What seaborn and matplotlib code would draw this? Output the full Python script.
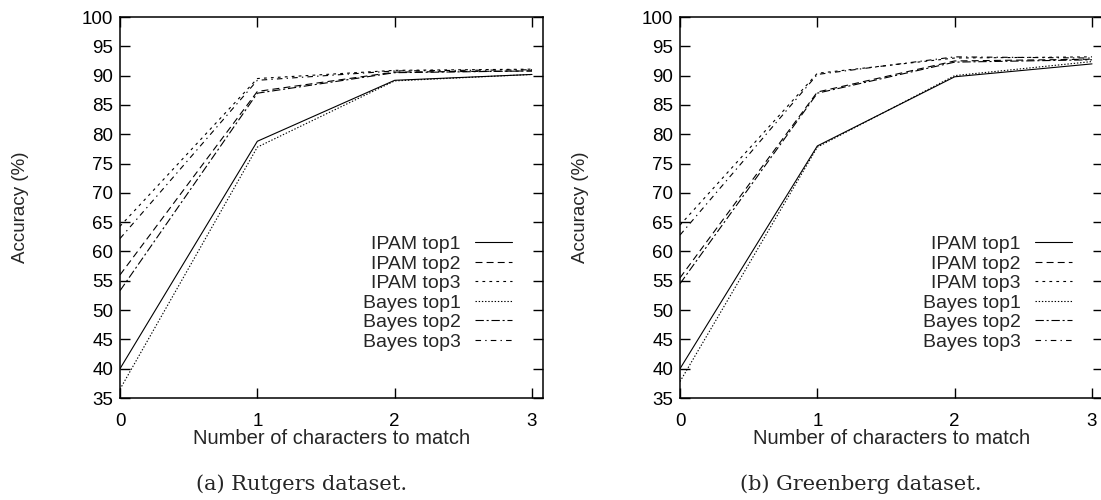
import matplotlib
matplotlib.use("Agg")
import matplotlib.pyplot as plt
import seaborn as sns
import pandas as pd

chars = [0, 1, 2, 3]
series_names = ["IPAM top1", "IPAM top2", "IPAM top3", "Bayes top1", "Bayes top2", "Bayes top3"]

rutgers_ipam_top1 = [40.0, 78.8, 89.2, 90.2]
rutgers_ipam_top2 = [56.0, 87.3, 90.6, 90.8]
rutgers_ipam_top3 = [64.3, 89.5, 90.9, 91.1]
rutgers_bayes_top1 = [36.5, 77.8, 89.1, 90.2]
rutgers_bayes_top2 = [53.3, 87.0, 90.5, 90.8]
rutgers_bayes_top3 = [62.2, 89.2, 90.8, 91.0]

greenberg_ipam_top1 = [40.0, 78.0, 89.8, 92.0]
greenberg_ipam_top2 = [55.5, 87.2, 92.5, 92.8]
greenberg_ipam_top3 = [64.5, 90.4, 93.0, 93.2]
greenberg_bayes_top1 = [37.8, 77.8, 90.0, 92.4]
greenberg_bayes_top2 = [54.5, 87.0, 92.3, 92.7]
greenberg_bayes_top3 = [62.8, 90.2, 93.2, 93.0]

y_ticks = list(range(35, 101, 5))
x_ticks = [0, 1, 2, 3]
captions = ["(a) Rutgers dataset.", "(b) Greenberg dataset."]

sns.set_style("ticks")
plt.rcParams["font.family"] = ["Liberation Sans", "DejaVu Sans"]
plt.rcParams["lines.scale_dashes"] = False

styles = {
    "IPAM top1": "-",
    "IPAM top2": (0, (5, 3)),
    "IPAM top3": (0, (2, 3)),
    "Bayes top1": (0, (1, 1.3)),
    "Bayes top2": (0, (6, 2, 1.5, 2)),
    "Bayes top3": (0, (4, 3, 1, 3)),
}

FS = 13.5

fig = plt.figure(figsize=(11.01, 5.0), dpi=100)
ax1 = fig.add_axes([120 / 1101, 1 - 398 / 500, 423 / 1101, 381 / 500])
ax2 = fig.add_axes([680 / 1101, 1 - 398 / 500, 423 / 1101, 381 / 500])

datasets = [
    [rutgers_ipam_top1, rutgers_ipam_top2, rutgers_ipam_top3,
     rutgers_bayes_top1, rutgers_bayes_top2, rutgers_bayes_top3],
    [greenberg_ipam_top1, greenberg_ipam_top2, greenberg_ipam_top3,
     greenberg_bayes_top1, greenberg_bayes_top2, greenberg_bayes_top3],
]
caption_x = [302 / 1101, 861 / 1101]

for ax, data, cap, cx in zip([ax1, ax2], datasets, captions, caption_x):
    for name, vals in zip(series_names, data):
        df = pd.DataFrame({"x": chars, "y": vals})
        sns.lineplot(data=df, x="x", y="y", ax=ax, color="black",
                     linewidth=0.8, linestyle=styles[name], label=name)
    ax.set_xlim(0, 3.08)
    ax.set_ylim(35, 100)
    ax.set_xticks(x_ticks)
    ax.set_yticks(y_ticks)
    ax.tick_params(direction="in", length=7, width=1, top=True, right=True,
                   labelsize=FS, pad=5, colors="black")
    ax.tick_params(axis="x", pad=11)
    for s in ax.spines.values():
        s.set_linewidth(1.1)
        s.set_color("black")
    ax.set_xlabel("Number of characters to match", fontsize=14.5, labelpad=-1)
    ax.set_ylabel("Accuracy (%)", fontsize=FS, labelpad=38)
    leg = ax.legend(loc="lower right", bbox_to_anchor=(0.927, 0.124), frameon=False,
                    markerfirst=False, fontsize=14, handlelength=1.9,
                    labelspacing=0.1, handletextpad=0.75, borderpad=0,
                    borderaxespad=0)
    for t in leg.get_texts():
        t.set_ha("right")
    fig.text(cx, 1 - 484 / 500, cap, ha="center", va="center",
             fontsize=15, family=["DejaVu Serif"])

fig.savefig("out.png", dpi=100)
